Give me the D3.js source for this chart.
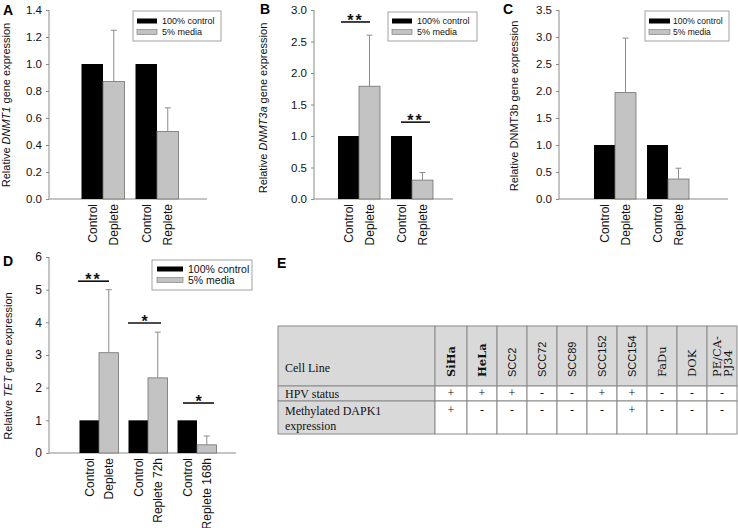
<!DOCTYPE html>
<html><head><meta charset="utf-8">
<script src="https://cdn.jsdelivr.net/npm/d3@7"></script>
<style>
body{margin:0;background:#fff;}
svg{display:block;}
</style></head>
<body>
<svg id="chart" width="738" height="528"></svg>
<script>
// ---------- DATA ----------
const seriesNames = ["100% control", "5% media"];

const aLabels = ["Control", "Deplete", "Control", "Replete"];
const aControl = [1.0, 1.0];
const aMedia = [0.87, 0.50];
const aMediaErr = [0.38, 0.175];
const aTicks = [0, 0.2, 0.4, 0.6, 0.8, 1.0, 1.2, 1.4];

const bLabels = ["Control", "Deplete", "Control", "Replete"];
const bControl = [1.0, 1.0];
const bMedia = [1.79, 0.30];
const bMediaErr = [0.81, 0.12];
const bTicks = [0, 0.5, 1.0, 1.5, 2.0, 2.5, 3.0];
const bSig = [{group: 0, value: 2.81, text: "**"}, {group: 1, value: 1.22, text: "**"}];

const cLabels = ["Control", "Deplete", "Control", "Replete"];
const cControl = [1.0, 1.0];
const cMedia = [1.97, 0.37];
const cMediaErr = [1.01, 0.20];
const cTicks = [0, 0.5, 1.0, 1.5, 2.0, 2.5, 3.0, 3.5];

const dLabels = ["Control", "Deplete", "Control", "Replete 72h", "Control", "Replete 168h"];
const dControl = [1, 1, 1];
const dMedia = [3.07, 2.30, 0.25];
const dMediaErr = [1.93, 1.40, 0.27];
const dTicks = [0, 1, 2, 3, 4, 5, 6];
const dSig = [{group: 0, value: 5.26, text: "**"}, {group: 1, value: 3.98, text: "*"}, {group: 2, value: 1.53, text: "*"}];

const cellLines = ["SiHa", "HeLa", "SCC2", "SCC72", "SCC89", "SCC152", "SCC154", "FaDu", "DOK", "PE/CA-PJ34"];
const hpvStatus = ["+", "+", "+", "-", "-", "+", "+", "-", "-", "-"];
const methylDAPK1 = ["+", "-", "-", "-", "-", "-", "+", "-", "-", "-"];
const rowLabels = ["HPV status", "Methylated DAPK1 expression"];

// ---------- LAYOUT ----------
const svg = d3.select("#chart");
const SANS = "'Liberation Sans', Arial, sans-serif";
const SERIF = "'Liberation Serif', 'Times New Roman', serif";
const SERIF2 = "'DejaVu Serif', serif";
const AXIS = "#8a8a8a";

const panels = [
  {letter: "A", lx: 3, ly: 15, labels: aLabels, control: aControl, media: aMedia, err: aMediaErr, ticks: aTicks, fmt: d3.format(".1f"),
   gene: "DNMT1", italic: true, sig: [], x0: 49, x1: 207, yTop: 10, yBot: 199, c0: 103, c1: 157, bw: 21.5,
   ylx: 10, yly: 105, yfs: 11, tfs: 11.5, xfs: 12,
   legend: {x: 133, y: 11, w: 88, h: 30, sx: 4, sw: 20, tx: 29, r1: 10, r2: 21, fs: 9}},
  {letter: "B", lx: 260, ly: 14, labels: bLabels, control: bControl, media: bMedia, err: bMediaErr, ticks: bTicks, fmt: d3.format(".1f"),
   gene: "DNMT3a", italic: true, sig: bSig, sigOff: [[-18, 11], [-11, 18]], x0: 314, x1: 453, yTop: 10, yBot: 199, c0: 359, c1: 412, bw: 21,
   ylx: 267, yly: 108, yfs: 11, tfs: 11.5, xfs: 12,
   legend: {x: 388, y: 12, w: 89, h: 29, sx: 4, sw: 20, tx: 29, r1: 9, r2: 20, fs: 9}},
  {letter: "C", lx: 503, ly: 14, labels: cLabels, control: cControl, media: cMedia, err: cMediaErr, ticks: cTicks, fmt: d3.format(".1f"),
   gene: "DNMT3b", italic: false, sig: [], x0: 559, x1: 728, yTop: 10, yBot: 199, c0: 615, c1: 668, bw: 21,
   ylx: 518, yly: 106, yfs: 11, tfs: 11.5, xfs: 12,
   legend: {x: 645, y: 11, w: 84, h: 30, sx: 4, sw: 21, tx: 28, r1: 10, r2: 21, fs: 8.5}},
  {letter: "D", lx: 3, ly: 266, labels: dLabels, control: dControl, media: dMedia, err: dMediaErr, ticks: dTicks, fmt: d3.format("d"),
   gene: "TET", italic: true, sig: dSig, sigOff: [[-21, 10], [-20, 13], [-14, 17]], x0: 49, x1: 236, yTop: 257, yBot: 453, c0: 99, c1: 197, bw: 19.5,
   ylx: 12, yly: 366, yfs: 11, tfs: 12, xfs: 12,
   legend: {x: 152, y: 260, w: 100, h: 30, sx: 5, sw: 26, tx: 36, r1: 9, r2: 20, fs: 10.5}}
];

panels.forEach(p => {
  const g = svg.append("g");
  const n = p.control.length;
  const x = d3.scaleLinear().domain([0, n - 1]).range([p.c0, p.c1]);
  const y = d3.scaleLinear().domain([0, d3.max(p.ticks)]).range([p.yBot, p.yTop]);

  // y axis
  const yAxis = d3.axisLeft(y).tickValues(p.ticks).tickFormat(p.fmt).tickSize(3).tickPadding(4);
  const ya = g.append("g").attr("transform", `translate(${p.x0},0)`).call(yAxis);
  ya.select(".domain").attr("stroke", AXIS).attr("d", `M0,${p.yTop}V${p.yBot}`);
  ya.selectAll(".tick line").attr("stroke", AXIS);
  ya.selectAll(".tick text").attr("font-family", SANS).attr("font-size", p.tfs).attr("fill", "#111");

  // x axis line
  g.append("line").attr("x1", p.x0).attr("x2", p.x1).attr("y1", y(0)).attr("y2", y(0)).attr("stroke", AXIS);

  // bars
  g.selectAll(".ctrl").data(p.control).join("rect")
    .attr("x", (d, i) => x(i) - p.bw).attr("width", p.bw)
    .attr("y", d => y(d)).attr("height", d => y(0) - y(d))
    .attr("fill", "#000");
  g.selectAll(".media").data(p.media).join("rect")
    .attr("x", (d, i) => x(i)).attr("width", p.bw)
    .attr("y", d => y(d)).attr("height", d => y(0) - y(d))
    .attr("fill", "#c3c3c3").attr("stroke", "#707070").attr("stroke-width", 0.8);

  // error bars (upper only)
  p.media.forEach((m, i) => {
    const cx = x(i) + p.bw / 2;
    g.append("line").attr("x1", cx).attr("x2", cx).attr("y1", y(m)).attr("y2", y(m + p.err[i])).attr("stroke", "#8c8c8c").attr("stroke-width", 1);
    g.append("line").attr("x1", cx - 3).attr("x2", cx + 3).attr("y1", y(m + p.err[i])).attr("y2", y(m + p.err[i])).attr("stroke", "#8c8c8c").attr("stroke-width", 1);
  });

  // x labels (rotated)
  p.labels.forEach((lab, j) => {
    const gi = Math.floor(j / 2);
    const cx = j % 2 === 0 ? x(gi) - p.bw / 2 : x(gi) + p.bw / 2;
    g.append("text")
      .attr("transform", `translate(${cx + p.xfs * 0.36},${y(0) + 5}) rotate(-90)`)
      .attr("text-anchor", "end").attr("font-family", SANS).attr("font-size", p.xfs).attr("fill", "#111")
      .text(lab);
  });

  // y label
  const yl = g.append("text")
    .attr("transform", `translate(${p.ylx},${p.yly}) rotate(-90)`)
    .attr("text-anchor", "middle").attr("font-family", SANS).attr("font-size", p.yfs).attr("fill", "#111");
  yl.append("tspan").text("Relative ");
  yl.append("tspan").attr("font-style", p.italic ? "italic" : "normal").text(p.gene);
  yl.append("tspan").text(" gene expression");

  // significance
  p.sig.forEach((s, k) => {
    const cx = x(s.group);
    const off = p.sigOff[k];
    const ly = y(s.value);
    g.append("line").attr("x1", cx + off[0]).attr("x2", cx + off[1]).attr("y1", ly).attr("y2", ly).attr("stroke", "#111").attr("stroke-width", 1.6);
    g.append("text").attr("x", cx + (off[0] + off[1]) / 2).attr("y", ly + 4)
      .attr("text-anchor", "middle").attr("font-family", SANS).attr("font-size", 16).attr("font-weight", "bold")
      .attr("letter-spacing", s.text.length > 1 ? 2 : 0).attr("fill", "#111").text(s.text);
  });

  // legend
  const L = p.legend;
  const lg = g.append("g").attr("transform", `translate(${L.x},${L.y})`);
  lg.append("rect").attr("width", L.w).attr("height", L.h).attr("fill", "#fff").attr("stroke", "#8a8a8a").attr("stroke-width", 0.8);
  [L.r1, L.r2].forEach((ry, k) => {
    lg.append("rect").attr("x", L.sx).attr("y", ry - 2.5).attr("width", L.sw).attr("height", 5)
      .attr("fill", k === 0 ? "#000" : "#c3c3c3").attr("stroke", k === 0 ? "none" : "#707070").attr("stroke-width", 0.6);
    lg.append("text").attr("x", L.tx).attr("y", ry).attr("dy", "0.35em")
      .attr("font-family", SANS).attr("font-size", L.fs).attr("fill", "#111").text(seriesNames[k]);
  });

  // panel letter
  g.append("text").attr("x", p.lx).attr("y", p.ly).attr("font-family", SANS).attr("font-weight", "bold")
    .attr("font-size", 14).attr("fill", "#000").text(p.letter);
});

// ---------- PANEL E: table ----------
svg.append("text").attr("x", 277).attr("y", 268).attr("font-family", SANS).attr("font-weight", "bold")
  .attr("font-size", 14).text("E");

const T = {x: 278, y: 326, firstW: 157, rowH: [60, 15, 33]};
const colX = d3.scaleBand().domain(cellLines).range([T.x + T.firstW + 2, 737]).paddingInner(0);
const colLeft = c => (c === cellLines[0] ? T.x + T.firstW : colX(c));
const colRight = c => colX(c) + colX.bandwidth();
const rowTop = [T.y, T.y + T.rowH[0], T.y + T.rowH[0] + T.rowH[1]];
const BORDER = "#8a8a8a";
const tbl = svg.append("g");

// header row
tbl.append("rect").attr("x", T.x).attr("y", rowTop[0]).attr("width", T.firstW).attr("height", T.rowH[0]).attr("fill", "#d9d9d9").attr("stroke", BORDER);
cellLines.forEach(c => {
  tbl.append("rect").attr("x", colLeft(c)).attr("y", rowTop[0]).attr("width", colRight(c) - colLeft(c)).attr("height", T.rowH[0])
    .attr("fill", "#d9d9d9").attr("stroke", BORDER);
});
// body rows
[hpvStatus, methylDAPK1].forEach((vals, r) => {
  const top = rowTop[r + 1], h = T.rowH[r + 1];
  tbl.append("rect").attr("x", T.x).attr("y", top).attr("width", T.firstW).attr("height", h).attr("fill", "#d9d9d9").attr("stroke", BORDER);
  cellLines.forEach((c, i) => {
    tbl.append("rect").attr("x", colLeft(c)).attr("y", top).attr("width", colRight(c) - colLeft(c)).attr("height", h)
      .attr("fill", "#fff").attr("stroke", BORDER);
    tbl.append("text").attr("x", (colLeft(c) + colRight(c)) / 2).attr("y", r === 0 ? top + 11 : top + 13)
      .attr("text-anchor", "middle").attr("font-family", SERIF).attr("font-size", 12).attr("fill", "#111").text(vals[i]);
  });
});

// header texts
tbl.append("text").attr("x", 285).attr("y", 372).attr("font-family", SERIF).attr("font-size", 12).attr("fill", "#111").text("Cell Line");
const sansCols = new Set(["SCC2", "SCC72", "SCC89", "SCC152", "SCC154"]);
cellLines.forEach(c => {
  const cx = (colLeft(c) + colRight(c)) / 2;
  const isSans = sansCols.has(c);
  const font = isSans ? SANS : SERIF2;
  const fs = isSans ? 11 : 11.5;
  const weight = (c === "SiHa" || c === "HeLa") ? "bold" : "normal";
  const parts = c === "PE/CA-PJ34" ? ["PE/CA-", "PJ34"] : [c];
  parts.forEach((t, k) => {
    const off = parts.length === 1 ? 0.36 * fs : (k === 0 ? -5 + 0.36 * fs : 6 + 0.36 * fs);
    tbl.append("text").attr("transform", `translate(${cx + off},377) rotate(-90)`)
      .attr("text-anchor", "start").attr("font-family", font).attr("font-size", fs).attr("font-weight", weight)
      .attr("fill", "#111").text(t);
  });
});

// row labels
tbl.append("text").attr("x", 285).attr("y", 398).attr("font-family", SERIF).attr("font-size", 12).attr("fill", "#111").text(rowLabels[0]);
const ml = tbl.append("text").attr("font-family", SERIF).attr("font-size", 12).attr("fill", "#111");
const words = rowLabels[1].split(" ");
ml.append("tspan").attr("x", 285).attr("y", 415).text(words.slice(0, 2).join(" "));
ml.append("tspan").attr("x", 285).attr("y", 430).text(words.slice(2).join(" "));
</script>
</body></html>
